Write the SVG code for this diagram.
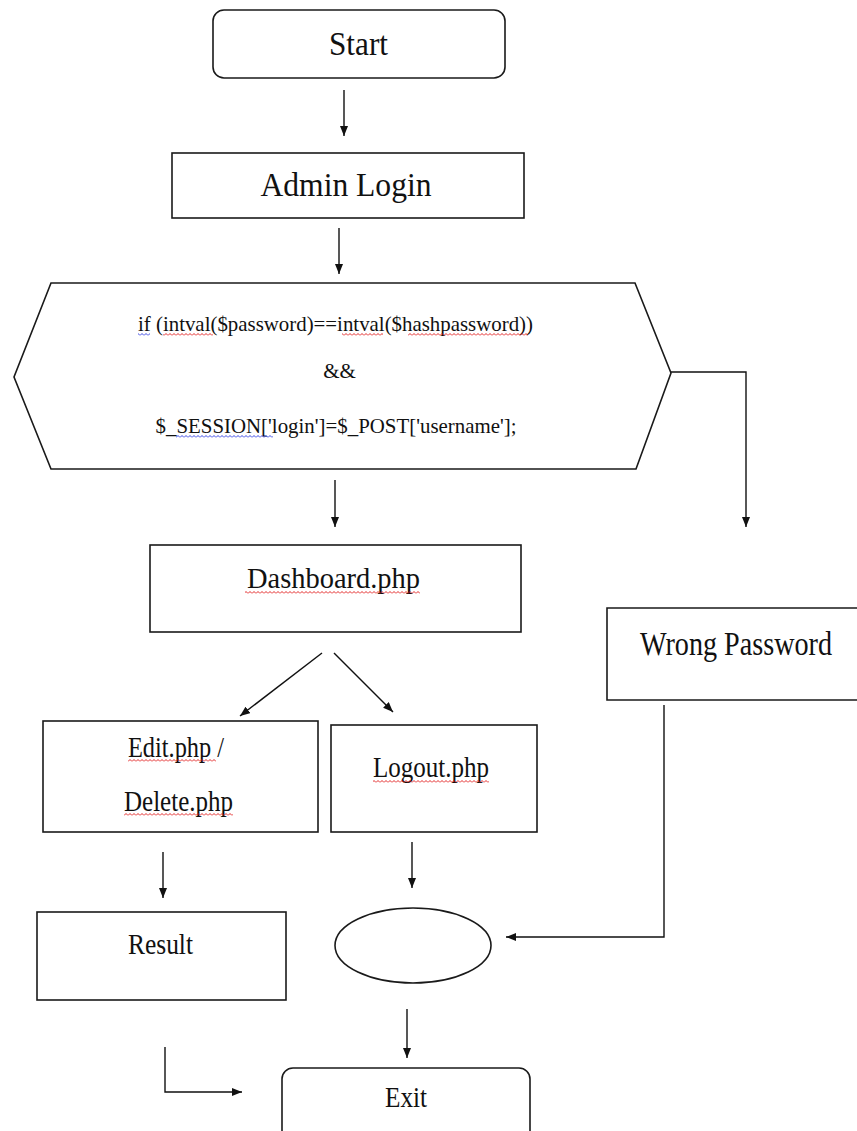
<svg xmlns="http://www.w3.org/2000/svg" width="857" height="1131" viewBox="0 0 857 1131">
<style>
.box{fill:#fff;stroke:#1a1a1a;stroke-width:1.6}
.lbl{font-family:"Liberation Serif","Times New Roman",serif;fill:#111;text-anchor:middle}
.big{font-size:33px}
.mid{font-size:30px}
.code{font-size:21px}
.conn{fill:none;stroke:#111;stroke-width:1.4}
</style>
<defs>
<marker id="ah" markerUnits="userSpaceOnUse" markerWidth="11" markerHeight="9" refX="10" refY="4" orient="auto">
<path d="M0,0 L10,4 L0,8 z" fill="#111"/>
</marker>
<pattern id="sqr" patternUnits="userSpaceOnUse" width="4" height="3">
<path d="M0,2.5 L2,0.5 L4,2.5" fill="none" stroke="#e01010" stroke-width="0.9"/>
</pattern>
<pattern id="sqb" patternUnits="userSpaceOnUse" width="4" height="3">
<path d="M0,2.5 L2,0.5 L4,2.5" fill="none" stroke="#2030e0" stroke-width="0.9"/>
</pattern>
</defs>
<rect width="857" height="1131" fill="#fff"/>

<g id="connectors">
<line class="conn" x1="344" y1="90" x2="344" y2="136" marker-end="url(#ah)"/>
<line class="conn" x1="339" y1="228" x2="339" y2="274" marker-end="url(#ah)"/>
<line class="conn" x1="335" y1="480" x2="335" y2="527" marker-end="url(#ah)"/>
<polyline class="conn" points="671,372 746,372 746,527" marker-end="url(#ah)"/>
<line class="conn" x1="322" y1="653" x2="240" y2="716" marker-end="url(#ah)"/>
<line class="conn" x1="334" y1="653" x2="393" y2="712" marker-end="url(#ah)"/>
<line class="conn" x1="163" y1="852" x2="163" y2="898" marker-end="url(#ah)"/>
<line class="conn" x1="412" y1="842" x2="412" y2="888" marker-end="url(#ah)"/>
<polyline class="conn" points="664,705 664,937 506,937" marker-end="url(#ah)"/>
<line class="conn" x1="407" y1="1009" x2="407" y2="1058" marker-end="url(#ah)"/>
<polyline class="conn" points="165,1047 165,1092 242,1092" marker-end="url(#ah)"/>
</g>

<g id="start">
<rect class="box" x="213" y="10" width="292" height="68" rx="11"/>
<text class="lbl big" x="358.5" y="55" textLength="59" lengthAdjust="spacingAndGlyphs">Start</text>
</g>

<g id="admin-login">
<rect class="box" x="172" y="153" width="352" height="65"/>
<text class="lbl big" x="346" y="196" textLength="171" lengthAdjust="spacingAndGlyphs">Admin Login</text>
</g>

<g id="check">
<polygon class="box" points="51,283 635,283 671,373 636,469 51,469 14,377"/>
<text class="lbl code" x="335.5" y="331" textLength="395" lengthAdjust="spacingAndGlyphs">if (intval($password)==intval($hashpassword))</text>
<text class="lbl code" x="339.5" y="378">&amp;&amp;</text>
<text class="lbl code" x="336" y="433" textLength="361" lengthAdjust="spacingAndGlyphs">$_SESSION['login']=$_POST['username'];</text>
<rect x="138" y="333" width="12" height="3" fill="url(#sqb)"/>
<rect x="163" y="333" width="50" height="3" fill="url(#sqr)"/>
<rect x="342" y="333" width="41" height="3" fill="url(#sqr)"/>
<rect x="408" y="333" width="120" height="3" fill="url(#sqr)"/>
<rect x="176" y="435" width="97" height="3" fill="url(#sqb)"/>
</g>

<g id="dashboard">
<rect class="box" x="150" y="545" width="371" height="87"/>
<text class="lbl mid" x="333.5" y="588" textLength="173" lengthAdjust="spacingAndGlyphs">Dashboard.php</text>
<rect x="245" y="591" width="175" height="3" fill="url(#sqr)"/>
</g>

<g id="wrong-password">
<path class="box" d="M857,608 H607 V700 H857"/>
<text class="lbl big" x="736" y="655" textLength="192" lengthAdjust="spacingAndGlyphs">Wrong Password</text>
</g>

<g id="edit-delete">
<rect class="box" x="43" y="721" width="275" height="111"/>
<text class="lbl mid" x="176" y="757" textLength="96" lengthAdjust="spacingAndGlyphs">Edit.php /</text>
<text class="lbl mid" x="178.5" y="811" textLength="109" lengthAdjust="spacingAndGlyphs">Delete.php</text>
<rect x="128" y="759" width="88" height="3" fill="url(#sqr)"/>
<rect x="124" y="813" width="109" height="3" fill="url(#sqr)"/>
</g>

<g id="logout">
<rect class="box" x="331" y="725" width="206" height="107"/>
<text class="lbl mid" x="431" y="777" textLength="116" lengthAdjust="spacingAndGlyphs">Logout.php</text>
<rect x="373" y="780" width="116" height="3" fill="url(#sqr)"/>
</g>

<g id="result">
<rect class="box" x="37" y="912" width="249" height="88"/>
<text class="lbl mid" x="160.5" y="954" textLength="65" lengthAdjust="spacingAndGlyphs">Result</text>
</g>

<g id="end-circle">
<ellipse class="box" cx="413" cy="945.5" rx="78" ry="37.5"/>
</g>

<g id="exit">
<rect class="box" x="282" y="1068" width="248" height="80" rx="11"/>
<text class="lbl mid" x="406" y="1107" textLength="42" lengthAdjust="spacingAndGlyphs">Exit</text>
</g>
</svg>
